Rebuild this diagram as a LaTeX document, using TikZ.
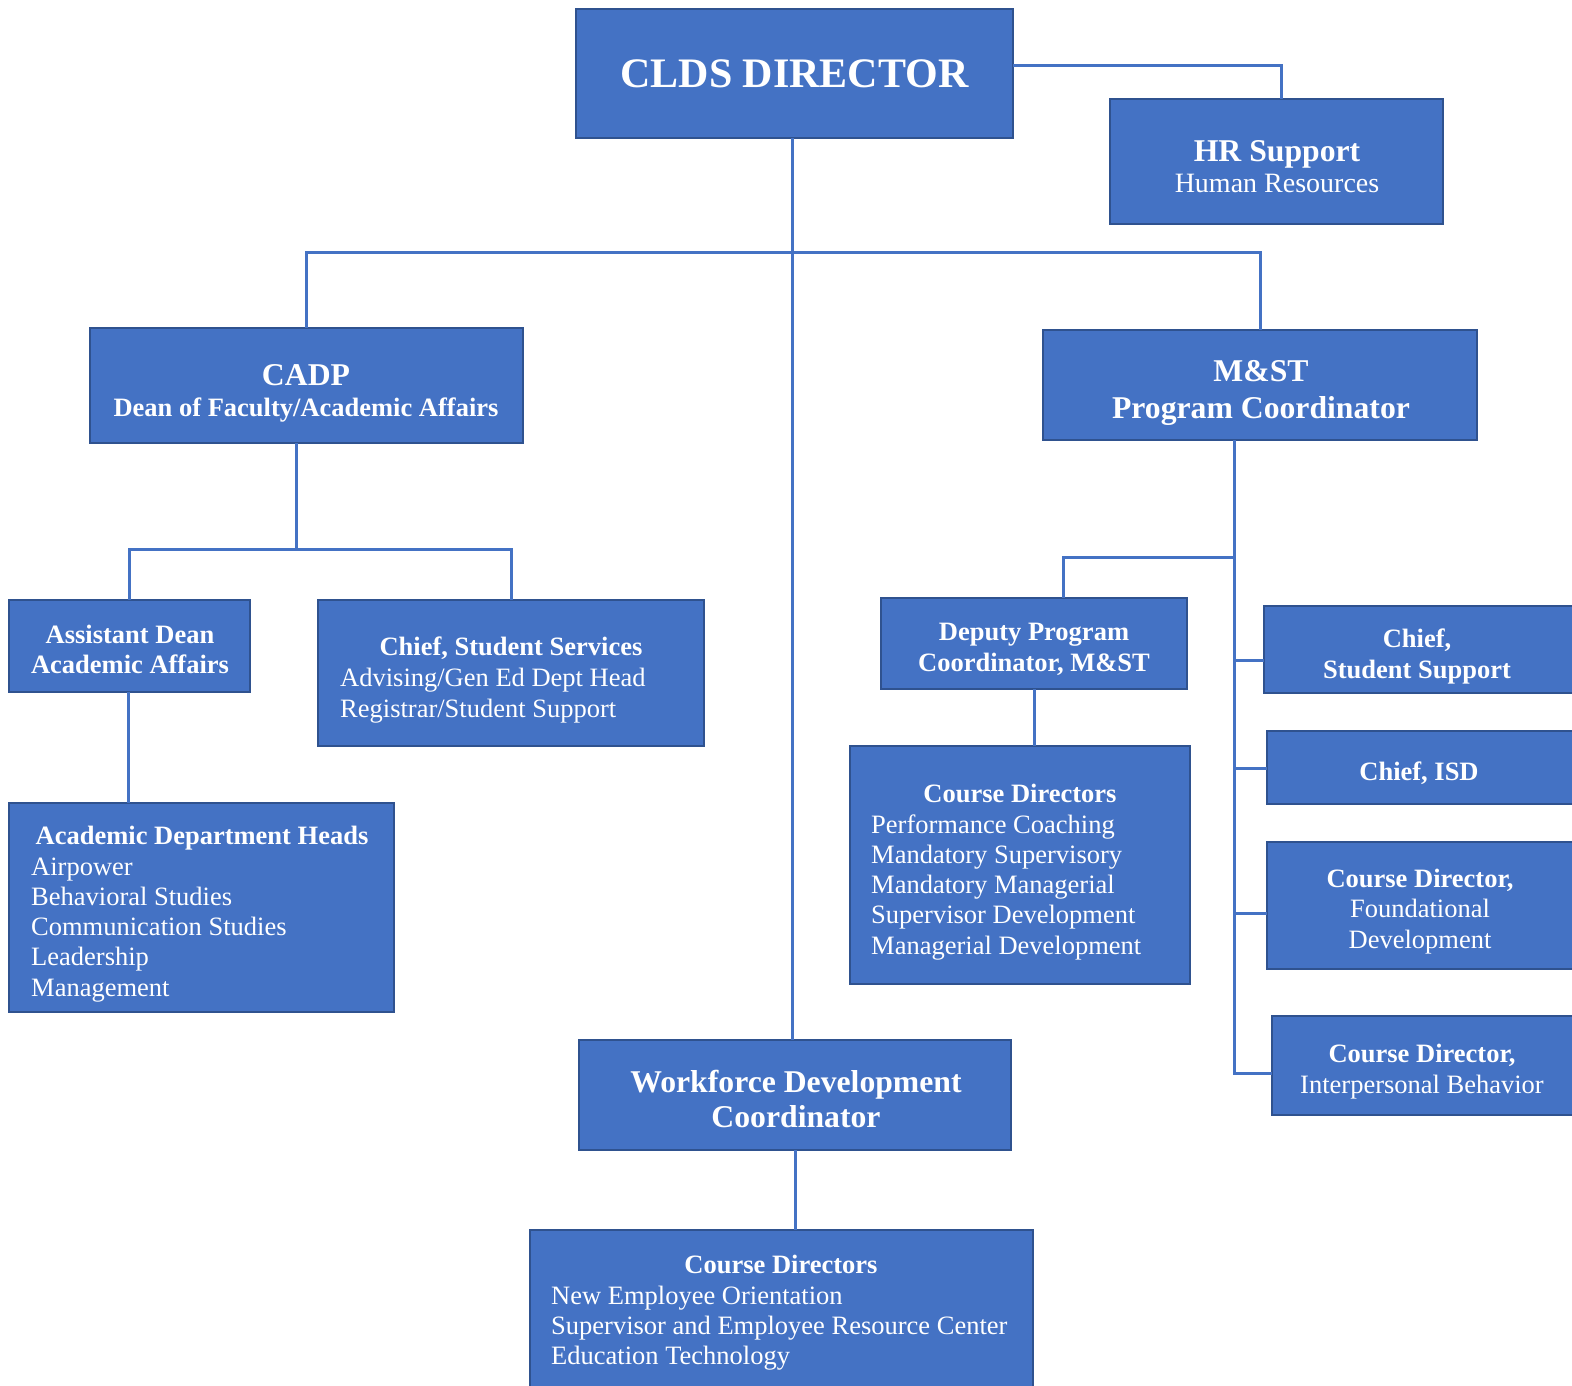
\documentclass[tikz,border=0pt]{standalone}
\usepackage{fontspec}
\setmainfont{Liberation Serif}
\usetikzlibrary{calc}
\definecolor{boxfill}{HTML}{4472C4}
\definecolor{boxline}{HTML}{2F528F}
\definecolor{wire}{HTML}{4472C4}
\newcommand\fsA{\fontsize{42}{48}\selectfont\bfseries}
\newcommand\fsB{\fontsize{31.7}{36}\selectfont\bfseries}
\newcommand\fsC{\fontsize{26.5}{30.5}\selectfont\bfseries}
\newcommand\fsD{\fontsize{26.5}{30.5}\selectfont\mdseries}
\newcommand\fsE{\fontsize{28}{32}\selectfont\mdseries}
\begin{document}
\begin{tikzpicture}[x=1pt,y=-1pt,
  orgbox/.style={draw=boxline, fill=boxfill, line width=2pt, inner sep=0pt, outer sep=0pt, text=white, align=center},
  wirestyle/.style={draw=wire, line width=3pt},
  lbl/.style={text=white, inner sep=0pt, anchor=base},
  item/.style={text=white, inner sep=0pt, anchor=base west, font=\fsD}]
\useasboundingbox[fill=white] (0,0) rectangle (1572,1385);

% boxes
\node[orgbox, minimum width=437pt, minimum height=129pt] (clds) at (794.5,73.5) {\fsA CLDS DIRECTOR};
\node[orgbox, minimum width=333pt, minimum height=125pt] (hr) at (1276.5,161.5) {};
\node[orgbox, minimum width=433pt, minimum height=115pt] (cadp) at (306.5,385.5) {};
\node[orgbox, minimum width=434pt, minimum height=110pt] (mst) at (1260,385) {};
\node[orgbox, minimum width=241pt, minimum height=92pt] (asd) at (129.5,646) {};
\node[orgbox, minimum width=386pt, minimum height=146pt] (css) at (511,673) {};
\node[orgbox, minimum width=385pt, minimum height=209pt] (adh) at (201.5,907.5) {};
\node[orgbox, minimum width=306pt, minimum height=91pt] (dpc) at (1034,643.5) {};
\node[orgbox, minimum width=340pt, minimum height=238pt] (cdm) at (1020,865) {};
\node[orgbox, minimum width=312pt, minimum height=87pt] (cssup) at (1420,649.5) {};
\node[orgbox, minimum width=309pt, minimum height=73pt] (isd) at (1421.5,767.5) {};
\node[orgbox, minimum width=309pt, minimum height=127pt] (cdf) at (1421.5,905.5) {};
\node[orgbox, minimum width=304pt, minimum height=99pt] (cdi) at (1424,1065.5) {};
\node[orgbox, minimum width=432pt, minimum height=110pt] (wdc) at (795,1095) {};
\node[orgbox, minimum width=503pt, minimum height=170pt] (cdw) at (781.5,1315) {};

% centred labels
\node[lbl, font=\fsB] (hrt) at (1277,161) {HR Support};
\node[lbl, font=\fsE] (hrs) at (1277,192) {Human Resources};
\node[lbl, font=\fsB] (cadpt) at (306,385) {CADP};
\node[lbl, font=\fsC] (cadps) at (306,416) {Dean of Faculty/Academic Affairs};
\node[lbl, font=\fsB] (mstt) at (1261,381) {M\&ST};
\node[lbl, font=\fsB] (msts) at (1261,418) {Program Coordinator};
\node[lbl, font=\fsC] (asdt) at (130,643) {Assistant Dean};
\node[lbl, font=\fsC] (asds) at (130,673) {Academic Affairs};
\node[lbl, font=\fsC] (dpct) at (1034,640) {Deputy Program};
\node[lbl, font=\fsC] (dpcs) at (1034,671) {Coordinator, M\&ST};
\node[lbl, font=\fsC] (cssupt) at (1417,647) {Chief,};
\node[lbl, font=\fsC] (cssups) at (1417,678) {Student Support};
\node[lbl, font=\fsC] (isdt) at (1419,780) {Chief, ISD};
\node[lbl, font=\fsC] (cdft) at (1420,887) {Course Director,};
\node[lbl, font=\fsD] (cdfs) at (1420,917) {Foundational};
\node[lbl, font=\fsD] (cdfu) at (1420,948) {Development};
\node[lbl, font=\fsC] (cdit) at (1422,1062) {Course Director,};
\node[lbl, font=\fsD] (cdis) at (1422,1093) {Interpersonal Behavior};
\node[lbl, font=\fsB] (wdct) at (796,1092) {Workforce Development};
\node[lbl, font=\fsB] (wdcs) at (796,1127) {Coordinator};

% texts of boxes with lists
\node[lbl, font=\fsC] (csst) at (511,655) {Chief, Student Services};
\node[item] (css1) at (340,686) {Advising/Gen Ed Dept Head};
\node[item] (css2) at (340,717) {Registrar/Student Support};

\node[lbl, font=\fsC] (adht) at (202,844) {Academic Department Heads};
\foreach \t [count=\i from 0] in {Airpower,Behavioral Studies,Communication Studies,Leadership,Management}
  \node[item] (adh\i) at (31,875+30.3*\i) {\t};

\node[lbl, font=\fsC] (cdmt) at (1020,802) {Course Directors};
\foreach \t [count=\i from 0] in {Performance Coaching,Mandatory Supervisory,Mandatory Managerial,Supervisor Development,Managerial Development}
  \node[item] (cdm\i) at (871,833+30.3*\i) {\t};

\node[lbl, font=\fsC] (cdwt) at (781,1273) {Course Directors};
\foreach \t [count=\i from 0] in {New Employee Orientation,Supervisor and Employee Resource Center,Education Technology}
  \node[item] (cdw\i) at (551,1304+30.3*\i) {\t};

% connectors
\coordinate (hrtap) at ($(clds.east)+(0,-8.5)$);
\coordinate (hrin) at (1281,99);
\draw[wirestyle] (hrtap) -| (hrin);
\coordinate (trunk) at (792.5,138);
\draw[wirestyle] (trunk) -- (trunk |- wdc.north);
\coordinate (topbus) at (792.5,252);
\draw[wirestyle] (cadp.north) |- (topbus) -| (mst.north);

\coordinate (cadpbus) at (296,549);
\draw[wirestyle] (cadp.south -| cadpbus) -- (cadpbus);
\draw[wirestyle] (asd.north) |- (cadpbus) -| (css.north);
\coordinate (asdtap) at (128,692);
\draw[wirestyle] (asdtap) -- (asdtap |- adh.north);

\coordinate (mbus) at (1234.5,557);
\coordinate (dpctop) at (1063,598);
\coordinate (b4) at (1234.5,1073);
\draw[wirestyle] (mst.south -| mbus) -- (b4) -- (b4 -| cdi.west);
\draw[wirestyle] (mbus) -| (dpctop);
\draw[wirestyle] (dpc.south) -- (dpc.south |- cdm.north);
\coordinate (b1) at (1234.5,660);
\coordinate (b2) at (1234.5,768);
\coordinate (b3) at (1234.5,913);
\draw[wirestyle] (b1) -- (b1 -| cssup.west);
\draw[wirestyle] (b2) -- (b2 -| isd.west);
\draw[wirestyle] (b3) -- (b3 -| cdf.west);

\draw[wirestyle] (wdc.south) -- (wdc.south |- cdw.north);
\end{tikzpicture}
\end{document}
